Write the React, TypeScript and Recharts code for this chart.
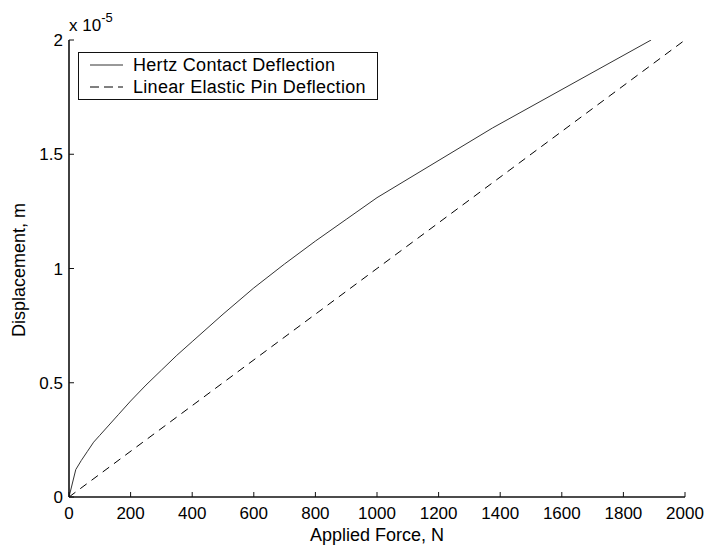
import React from 'react';
import { LineChart, Line, XAxis, YAxis, Legend, Label } from 'recharts';

const forceN = [0, 22, 40, 60, 80, 100, 130, 160, 200, 250, 300, 350, 400, 500, 600, 700, 800, 900, 1000, 1375, 1890];
const hertzDispE5 = [0, 0.12, 0.16, 0.2, 0.24, 0.27, 0.315, 0.36, 0.42, 0.49, 0.555, 0.62, 0.68, 0.8, 0.915, 1.02, 1.12, 1.215, 1.31, 1.615, 2.0];
const linearForceN = [0, 2000];
const linearDispE5 = [0, 2];
const xTicks = [0, 200, 400, 600, 800, 1000, 1200, 1400, 1600, 1800, 2000];
const yTicks = [0, 0.5, 1, 1.5, 2];
const seriesNames = ['Hertz Contact Deflection', 'Linear Elastic Pin Deflection'];
const xTitle = 'Applied Force, N';
const yTitle = 'Displacement, m';
const expBase = 'x 10';
const expPow = '-5';

const hertzData = forceN.map((f, i) => ({ f, d: hertzDispE5[i] }));
const linearData = linearForceN.map((f, i) => ({ f, d: linearDispE5[i] }));

const FONT = '"Liberation Sans", Arial, Helvetica, sans-serif';
const FS = 18;
const TFS = 17;
const AXIS = '#111';

const renderLegend = () => (
  <div
    style={{
      width: 300,
      height: 48,
      boxSizing: 'border-box',
      border: `1px solid ${AXIS}`,
      background: '#fff',
      fontFamily: FONT,
      fontSize: FS,
      color: '#000',
      paddingTop: 1,
    }}
  >
    {seriesNames.map((name, i) => (
      <div key={name} style={{ display: 'flex', alignItems: 'center', height: 22 }}>
        <svg width={54} height={10} style={{ flex: 'none' }}>
          <line
            x1={11}
            x2={44}
            y1={5}
            y2={5}
            stroke={i === 0 ? '#333' : '#000'}
            strokeWidth={1}
            strokeDasharray={i === 0 ? undefined : '9 5'}
          />
        </svg>
        <span style={{ whiteSpace: 'nowrap', letterSpacing: 0.3 }}>{name}</span>
      </div>
    ))}
  </div>
);

export default function App() {
  return (
    <div style={{ position: 'absolute', left: 0, top: 0, width: 704, height: 546, background: '#fff' }}>
      <LineChart width={704} height={546} margin={{ top: 40, right: 19, bottom: 0, left: 0 }}>
        <XAxis
          xAxisId="b"
          type="number"
          dataKey="f"
          domain={[0, 2000]}
          ticks={xTicks}
          interval={0}
          height={49}
          tickSize={-5}
          tickMargin={15}
          axisLine={{ stroke: AXIS, strokeWidth: 1.6 }}
          tickLine={{ stroke: AXIS, strokeWidth: 1 }}
          tick={{ fill: '#000', fontSize: TFS, fontFamily: FONT }}
          allowDataOverflow
        >
          <Label
            content={() => (
              <text x={377} y={541} textAnchor="middle" fontSize={FS} fontFamily={FONT} fill="#000">
                {xTitle}
              </text>
            )}
          />
        </XAxis>
        <XAxis
          xAxisId="t"
          orientation="top"
          type="number"
          dataKey="f"
          domain={[0, 2000]}
          ticks={xTicks}
          interval={0}
          height={0}
          tickSize={-5}
          tick={false}
          axisLine={{ stroke: AXIS, strokeWidth: 1.6 }}
          tickLine={{ stroke: AXIS, strokeWidth: 1 }}
          allowDataOverflow
        />
        <YAxis
          yAxisId="l"
          type="number"
          dataKey="d"
          domain={[0, 2]}
          ticks={yTicks}
          interval={0}
          width={69}
          tickSize={-5}
          tickMargin={11}
          axisLine={{ stroke: AXIS, strokeWidth: 1.6 }}
          tickLine={{ stroke: AXIS, strokeWidth: 1 }}
          tick={{ fill: '#000', fontSize: TFS, fontFamily: FONT }}
          allowDataOverflow
        >
          <Label
            content={() => (
              <g>
                <text
                  x={25}
                  y={270}
                  transform="rotate(-90, 25, 270)"
                  textAnchor="middle"
                  fontSize={FS}
                  fontFamily={FONT}
                  fill="#000"
                >
                  {yTitle}
                </text>
                <text x={69} y={31} fontSize={TFS} fontFamily={FONT} fill="#000">
                  {expBase}
                  <tspan dy={-9} fontSize={13}>
                    {expPow}
                  </tspan>
                </text>
              </g>
            )}
          />
        </YAxis>
        <YAxis
          yAxisId="r"
          orientation="right"
          type="number"
          dataKey="d"
          domain={[0, 2]}
          ticks={yTicks}
          interval={0}
          width={0}
          tickSize={-5}
          tick={false}
          axisLine={{ stroke: AXIS, strokeWidth: 1.6 }}
          tickLine={{ stroke: AXIS, strokeWidth: 1 }}
          allowDataOverflow
        />
        <Legend
          layout="horizontal"
          verticalAlign="middle"
          align="center"
          content={renderLegend}
          wrapperStyle={{ position: 'absolute', left: 78, top: 52, width: 300, height: 48 }}
        />
        <Line
          xAxisId="b"
          yAxisId="l"
          data={hertzData}
          dataKey="d"
          name={seriesNames[0]}
          type="linear"
          stroke="#333"
          strokeWidth={1}
          dot={false}
          isAnimationActive={false}
        />
        <Line
          xAxisId="b"
          yAxisId="l"
          data={linearData}
          dataKey="d"
          name={seriesNames[1]}
          type="linear"
          stroke="#000"
          strokeWidth={1}
          strokeDasharray="8 6"
          dot={false}
          isAnimationActive={false}
        />
      </LineChart>
    </div>
  );
}
